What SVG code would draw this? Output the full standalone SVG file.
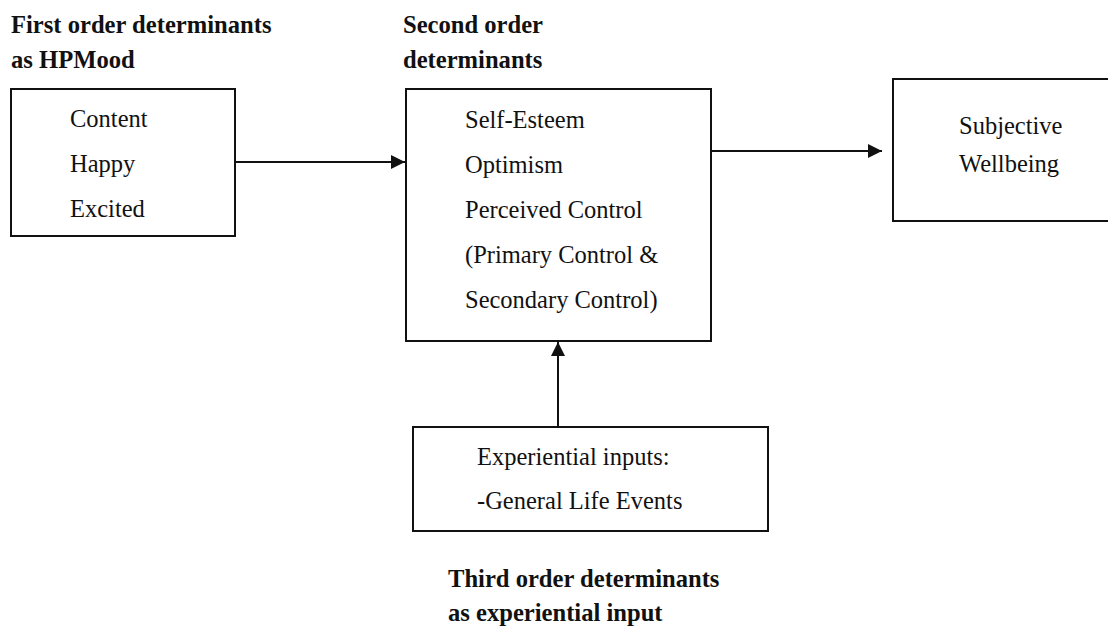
<svg xmlns="http://www.w3.org/2000/svg" width="1108" height="627" viewBox="0 0 1108 627">
<defs>
<style>
.box{fill:#fff;stroke:#111;stroke-width:2}
.t{font-family:"Liberation Serif","Times New Roman",serif;font-size:24.5px;fill:#111}
.h{font-family:"Liberation Serif","Times New Roman",serif;font-size:24.6px;font-weight:bold;fill:#111}
.c{stroke:#111;stroke-width:2;fill:none}
</style>
<marker id="arr" markerWidth="15" markerHeight="15" refX="14" refY="7" orient="auto" markerUnits="userSpaceOnUse">
<path d="M0,0 L14,7 L0,14 Z" fill="#111"/>
</marker>
</defs>
<rect width="1108" height="627" fill="#fff"/>
<g id="labels">
<text class="h" x="11" y="33">First order determinants</text>
<text class="h" x="11" y="68">as HPMood</text>
<text class="h" x="403" y="33">Second order</text>
<text class="h" x="403" y="68">determinants</text>
<text class="h" x="448" y="587">Third order determinants</text>
<text class="h" x="448" y="621">as experiential input</text>
</g>
<g id="connectors">
<line class="c" x1="235" y1="162" x2="405" y2="162" marker-end="url(#arr)"/>
<line class="c" x1="712" y1="151" x2="882" y2="151" marker-end="url(#arr)"/>
<line class="c" x1="558" y1="427" x2="558" y2="342" marker-end="url(#arr)"/>
</g>
<g id="node-first">
<rect class="box" x="11" y="89" width="224" height="147"/>
<text class="t" x="70" y="127">Content</text>
<text class="t" x="70" y="172">Happy</text>
<text class="t" x="70" y="217">Excited</text>
</g>
<g id="node-second">
<rect class="box" x="406" y="89" width="305" height="252"/>
<text class="t" x="465" y="128">Self-Esteem</text>
<text class="t" x="465" y="173">Optimism</text>
<text class="t" x="465" y="218">Perceived Control</text>
<text class="t" x="465" y="263">(Primary Control &amp;</text>
<text class="t" x="465" y="308">Secondary Control)</text>
</g>
<g id="node-swb">
<rect class="box" x="893" y="79" width="220" height="142"/>
<text class="t" x="959" y="134">Subjective</text>
<text class="t" x="959" y="172">Wellbeing</text>
</g>
<g id="node-third">
<rect class="box" x="413" y="427" width="355" height="104"/>
<text class="t" x="477" y="465">Experiential inputs:</text>
<text class="t" x="477" y="509">-General Life Events</text>
</g>
</svg>
